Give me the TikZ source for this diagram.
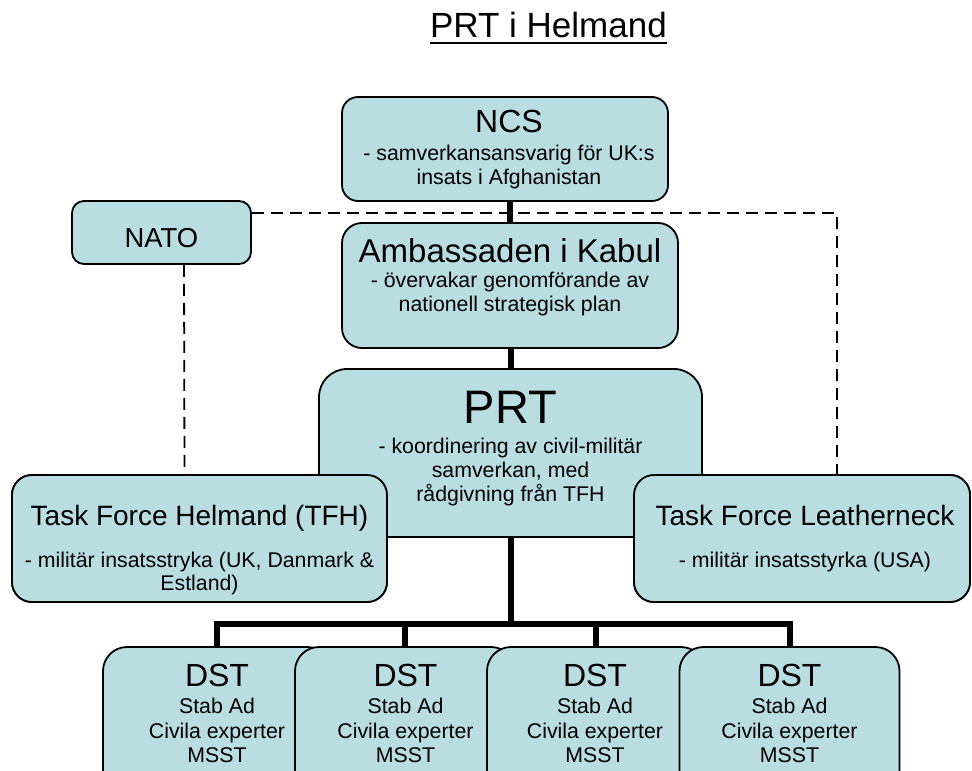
\documentclass[tikz,border=0pt]{standalone}
\usepackage{fontspec}
\setmainfont{Liberation Sans}
\usetikzlibrary{calc}
\definecolor{boxfill}{RGB}{185,221,225}
\newcommand\myfsub{\fontsize{21.3}{25}\selectfont}
\newcommand\myfhead{\fontsize{28}{32}\selectfont}
\newcommand\myfbig{\fontsize{33}{38}\selectfont}
\newcommand\myfdst{\fontsize{32}{36}\selectfont}
\begin{document}
\begin{tikzpicture}[x=1pt,y=-1pt,
  boxnode/.style={draw=black, line width=1.8pt, fill=boxfill, inner sep=0pt},
  txt/.style={inner sep=0pt, anchor=base},
  conn/.style={line width=6pt, draw=black},
  dashline/.style={line width=1.8pt, draw=black, dash pattern=on 12pt off 7pt}]
\useasboundingbox (0,0) rectangle (972,771);
\clip (0,0) rectangle (972,771);
\fill[white] (0,0) rectangle (972,771);

% title
\node[txt, anchor=base east] (title) at (667,37) {\fontsize{35}{40}\selectfont PRT i Helmand};
\draw[line width=2.8pt] ($(title.base west)+(0,6)$) -- ($(title.base east)+(0,6)$);

% named helper coordinates
\coordinate (dashy) at (0,213);
\coordinate (busy) at (0,624);

% NATO box (drawn early, dashed links)
\node[boxnode, rounded corners=12pt, minimum width=179pt, minimum height=63pt] (nato) at (161.5,232.5) {};
\node[txt] (natotxt) at (161.5,247) {\fontsize{27.4}{30}\selectfont NATO};
\node[boxnode, rounded corners=20pt, minimum width=375pt, minimum height=127pt] (tfhbox) at (199.5,538.5) {};
\node[boxnode, rounded corners=20pt, minimum width=336pt, minimum height=127pt] (tflbox) at (802,538.5) {};

\draw[dashline] (nato.east |- dashy) -| ($(tflbox.north)+(35,0)$);
\draw[dashline] ($(nato.south)+(22.5,0)$) -- ($(tfhbox.north)+(-15,0)$);

% NCS
\node[boxnode, rounded corners=16pt, minimum width=326pt, minimum height=104pt] (ncs) at (505,149) {};
\node[txt] (ncs1) at (509,132) {\myfdst NCS};
\node[txt] (ncs2) at (509,160) {\myfsub - samverkansansvarig för UK:s};
\node[txt] (ncs3) at (509,184) {\myfsub insats i Afghanistan};

% Ambassaden
\node[boxnode, rounded corners=20pt, minimum width=336pt, minimum height=125pt] (amb) at (510,285.5) {};
\node[txt] (amb1) at (510,262) {\myfbig Ambassaden i Kabul};
\node[txt] (amb2) at (510,287) {\myfsub - övervakar genomförande av};
\node[txt] (amb3) at (510,311) {\myfsub nationell strategisk plan};

\draw[conn] (amb.north) -- (amb.north |- ncs.south);

% PRT
\node[boxnode, rounded corners=28pt, minimum width=383pt, minimum height=168pt] (prt) at (510.5,453) {};
\node[txt] (prt1) at (510.5,423) {\fontsize{47}{52}\selectfont PRT};
\node[txt] (prt2) at (510.5,453) {\myfsub - koordinering av civil-militär};
\node[txt] (prt3) at (510.5,477) {\myfsub samverkan, med};
\node[txt] (prt4) at (510.5,501) {\myfsub rådgivning från TFH};

\draw[conn] (prt.north) -- (prt.north |- amb.south);

% TFH and TFL (over PRT)
\node[boxnode, rounded corners=20pt, minimum width=375pt, minimum height=127pt] (tfh) at (199.5,538.5) {};
\node[txt] (tfh1) at (199.5,525) {\myfhead Task Force Helmand (TFH)};
\node[txt] (tfh2) at (199.5,567) {\myfsub - militär insatsstryka (UK, Danmark \&};
\node[txt] (tfh3) at (199.5,590) {\myfsub Estland)};

\node[boxnode, rounded corners=20pt, minimum width=336pt, minimum height=127pt] (tfl) at (802,538.5) {};
\node[txt] (tfl1) at (805,525) {\myfhead Task Force Leatherneck};
\node[txt] (tfl2) at (805,567) {\myfsub - militär insatsstyrka (USA)};

% DST boxes
\node[boxnode, rounded corners=24pt, minimum width=228pt, minimum height=160pt] (d1) at (217,727) {};
\node[boxnode, rounded corners=24pt, minimum width=220pt, minimum height=160pt] (d2) at (405,727) {};
\node[boxnode, rounded corners=24pt, minimum width=218pt, minimum height=160pt] (d3) at (596,727) {};
\node[boxnode, rounded corners=24pt, minimum width=220pt, minimum height=160pt] (d4) at (789.5,727) {};

\foreach \n/\x in {1/217, 2/405.5, 3/595, 4/789.5} {
  \node[txt] (dst\n a) at (\x,686) {\myfdst DST};
  \node[txt] (dst\n b) at (\x,713) {\myfsub Stab Ad};
  \node[txt] (dst\n c) at (\x,738) {\myfsub Civila experter};
  \node[txt] (dst\n d) at (\x,762) {\myfsub MSST};
}

% tree connectors
\draw[conn] (prt.south) -- (prt.south |- busy);
\draw[conn, line join=miter] (d1.north) -- (d1.north |- busy) -- (d4.north |- busy) -- (d4.north);
\draw[conn] (d2.north) -- (d2.north |- busy);
\draw[conn] (d3.north) -- (d3.north |- busy);
\end{tikzpicture}
\end{document}
